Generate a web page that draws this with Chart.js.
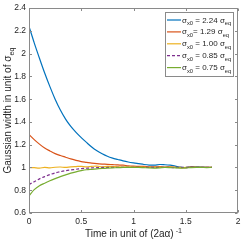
<!DOCTYPE html>
<html>
<head>
<meta charset="utf-8">
<script src="https://cdn.jsdelivr.net/npm/chart.js@4"></script>
<style>
  html, body { margin: 0; padding: 0; background: #fff; }
  #wrap { width: 241px; height: 240px; position: relative; }
</style>
</head>
<body>
<div id="wrap"><canvas id="c"></canvas></div>
<script>
// time axis, in unit of (2a alpha)^-1
const times = [0, 0.05, 0.1, 0.15, 0.2, 0.25, 0.3, 0.35, 0.4, 0.45, 0.5, 0.55, 0.6, 0.65, 0.7, 0.75, 0.8, 0.85, 0.9,
  0.95, 1.0, 1.05, 1.1, 1.15, 1.2, 1.25, 1.3, 1.35, 1.4, 1.45, 1.5, 1.55, 1.6, 1.65, 1.7, 1.75];

const w224 = [2.24, 2.095, 1.96, 1.83, 1.71, 1.60, 1.505, 1.425, 1.36, 1.308, 1.262, 1.22, 1.18, 1.147, 1.12, 1.098, 1.082, 1.07, 1.058,
  1.048, 1.04, 1.033, 1.026, 1.021, 1.02, 1.026, 1.024, 1.02, 1.012, 1.003, 0.998, 1.007, 1.005, 1.004, 1.002, 1.0];
const w129 = [1.29, 1.245, 1.205, 1.17, 1.145, 1.122, 1.105, 1.09, 1.075, 1.062, 1.052, 1.045, 1.038, 1.033, 1.03, 1.028, 1.025, 1.022, 1.02,
  1.015, 1.012, 1.01, 1.01, 1.006, 1.005, 1.008, 1.004, 1.006, 1.002, 1.0, 0.998, 1.003, 1.002, 1.0, 1.002, 1.0];
const w100 = [1.0, 0.998, 0.995, 1.0, 0.997, 1.002, 1.004, 1.0, 1.006, 1.008, 1.01, 1.006, 1.01, 1.012, 1.005, 1.01, 1.008, 1.006, 1.004,
  1.006, 1.003, 1.002, 1.004, 1.0, 1.002, 1.004, 1.0, 1.003, 1.0, 0.998, 1.0, 1.002, 1.0, 1.001, 1.0, 1.0];
const w085 = [0.85, 0.875, 0.9, 0.92, 0.937, 0.952, 0.963, 0.972, 0.978, 0.984, 0.99, 0.993, 0.997, 0.998, 1.0, 1.0, 1.002, 1.0, 1.001,
  1.0, 1.002, 1.0, 1.0, 1.001, 1.0, 1.002, 1.0, 1.0, 0.999, 1.0, 1.0, 1.001, 1.0, 1.0, 1.0, 1.0];
const w075 = [0.75, 0.805, 0.84, 0.862, 0.883, 0.902, 0.92, 0.935, 0.95, 0.962, 0.972, 0.98, 0.984, 0.988, 0.992, 0.995, 0.997, 0.998, 1.0,
  1.0, 1.001, 1.0, 0.998, 0.996, 0.995, 0.997, 1.0, 0.999, 0.997, 0.995, 0.996, 0.999, 1.0, 1.0, 0.999, 1.0];

const startVals = ["2.24", "1.29", "1.00", "0.85", "0.75"];
const xTicks = [0, 0.5, 1, 1.5, 2];
const yTicks = [0.6, 0.8, 1, 1.2, 1.4, 1.6, 1.8, 2, 2.2, 2.4];

const colors = ["#0072BD", "#D95319", "#EDB120", "#7E2F8E", "#77AC30"];
const series = [w224, w129, w100, w085, w075];

const FONT = "'Liberation Sans', Arial, Helvetica, sans-serif";
const AXIS = "#8a8a8a";
const TXT = "#262626";

// text with sub/superscripts: parts = [[text, shift]] shift 0 normal, 1 sub, -1 sup
function richWidth(ctx, parts, size) {
  let w = 0;
  for (const [t, s] of parts) {
    ctx.font = (s ? size * 0.72 : size) + "px " + FONT;
    w += ctx.measureText(t).width;
  }
  return w;
}
function drawRich(ctx, parts, x, y, size) {
  for (const [t, s] of parts) {
    const fs = s ? size * 0.72 : size;
    ctx.font = fs + "px " + FONT;
    ctx.fillText(t, x, y + (s === 1 ? size * 0.3 : s === -1 ? -size * 0.4 : 0));
    x += ctx.measureText(t).width;
  }
}

const frame = {
  id: "frame",
  afterDraw(chart) {
    const ctx = chart.ctx;
    const a = chart.chartArea;
    const xs = chart.scales.x, ys = chart.scales.y;
    const L = Math.round(a.left) + 0.5, R = Math.round(a.right) - 0.5;
    const T = Math.round(a.top) + 0.5, B = Math.round(a.bottom) - 0.5;
    ctx.save();
    ctx.strokeStyle = AXIS;
    ctx.lineWidth = 1;
    ctx.strokeRect(L, T, R - L, B - T);
    ctx.beginPath();
    const tl = 2.5;
    for (const v of xTicks) {
      const px = Math.round(xs.getPixelForValue(v)) + 0.5;
      ctx.moveTo(px, B); ctx.lineTo(px, B - tl);
      ctx.moveTo(px, T); ctx.lineTo(px, T + tl);
    }
    for (const v of yTicks) {
      const py = Math.round(ys.getPixelForValue(v)) + 0.5;
      ctx.moveTo(L, py); ctx.lineTo(L + tl, py);
      ctx.moveTo(R, py); ctx.lineTo(R - tl, py);
    }
    ctx.stroke();

    ctx.fillStyle = TXT;
    ctx.textBaseline = "alphabetic";
    ctx.textAlign = "left";

    // x title
    const xt = [["Time in unit of (2a\u03B1)", 0], [" -1", -1]];
    const xw = richWidth(ctx, xt, 10);
    drawRich(ctx, xt, (a.left + a.right) / 2 - xw / 2, 237, 10);

    // y title
    const yt = [["Gaussian width in unit of \u03C3", 0], ["eq", 1]];
    const yw = richWidth(ctx, yt, 10);
    ctx.save();
    ctx.translate(11, (a.top + a.bottom) / 2);
    ctx.rotate(-Math.PI / 2);
    drawRich(ctx, yt, -yw / 2, 0, 10);
    ctx.restore();

    // legend
    const bx = 165.5, by = 12.5, bw = 68, bh = 64;
    ctx.fillStyle = "#fff";
    ctx.fillRect(bx, by, bw, bh);
    ctx.strokeStyle = AXIS;
    ctx.strokeRect(bx, by, bw, bh);
    for (let i = 0; i < series.length; i++) {
      const ly = 20 + 11.9 * i;
      ctx.strokeStyle = colors[i];
      ctx.lineWidth = 1.2;
      ctx.setLineDash(i === 3 ? [3, 2] : []);
      ctx.beginPath();
      ctx.moveTo(167, ly); ctx.lineTo(181, ly);
      ctx.stroke();
      ctx.setLineDash([]);
      ctx.fillStyle = TXT;
      const eq = i === 1 ? "= " : " = ";
      drawRich(ctx, [["\u03C3", 0], ["x0", 1], [eq + startVals[i] + " \u03C3", 0], ["eq", 1]], 182, ly + 2.5, 8);
    }
    ctx.restore();
  }
};

const datasets = series.map((vals, i) => ({
  data: times.map((t, k) => ({ x: t, y: vals[k] })),
  borderColor: colors[i],
  borderWidth: 1.2,
  borderDash: i === 3 ? [3, 2] : [],
  pointRadius: 0,
  fill: false,
  tension: 0.3,
  order: series.length - i
}));

new Chart(document.getElementById("c"), {
  type: "line",
  data: { datasets },
  options: {
    responsive: true,
    maintainAspectRatio: false,
    animation: false,
    layout: { padding: { top: 3, right: 3, left: 0, bottom: 0 } },
    plugins: { legend: { display: false }, tooltip: { enabled: false } },
    scales: {
      x: {
        type: "linear", min: 0, max: 2,
        afterBuildTicks: s => { s.ticks = xTicks.map(v => ({ value: v })); },
        afterFit: s => { s.height = 27; s.paddingLeft = 0; s.paddingRight = 0; },
        grid: { display: false, drawTicks: false },
        border: { display: false },
        ticks: { padding: 4, maxRotation: 0, color: TXT, font: { family: FONT, size: 8.5 },
          callback: v => String(v) }
      },
      y: {
        min: 0.6, max: 2.4,
        afterBuildTicks: s => { s.ticks = yTicks.map(v => ({ value: v })); },
        afterFit: s => { s.width = 29; },
        grid: { display: false, drawTicks: false },
        border: { display: false },
        ticks: { padding: 3, color: TXT, font: { family: FONT, size: 8.5 },
          callback: v => String(Number(v.toFixed(1))) }
      }
    }
  },
  plugins: [frame]
});
</script>
</body>
</html>
